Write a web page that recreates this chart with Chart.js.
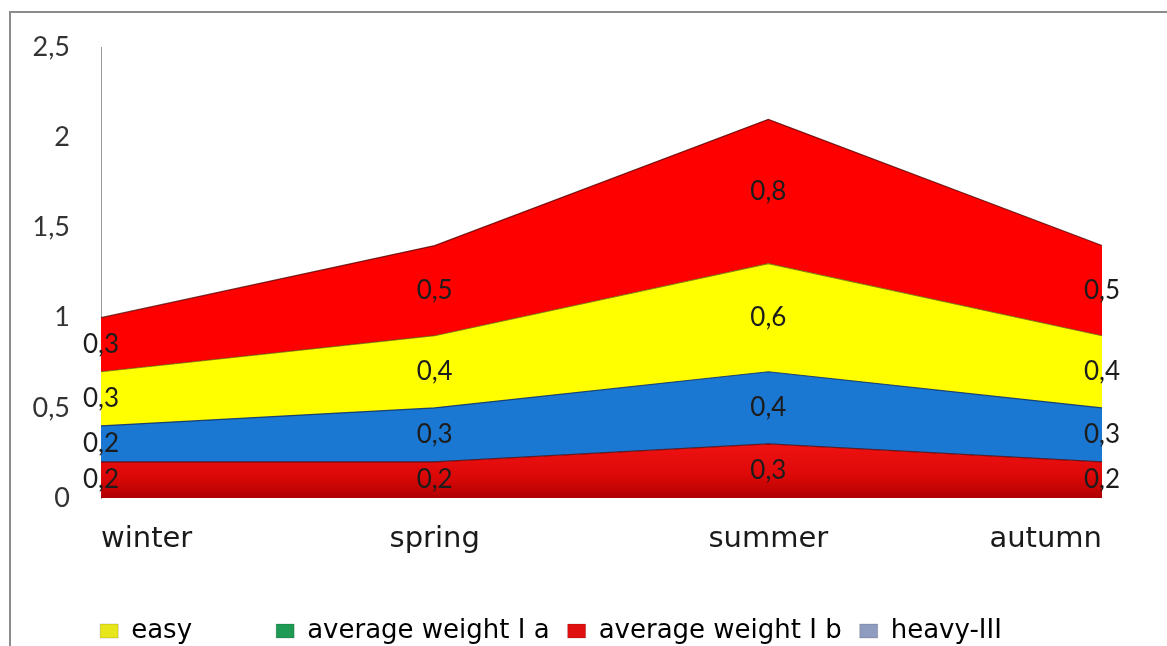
<!DOCTYPE html>
<html>
<head>
<meta charset="utf-8">
<script src="https://cdn.jsdelivr.net/npm/chart.js@4.4.1/dist/chart.umd.min.js"></script>
<style>
  html, body { margin: 0; padding: 0; background: #fff; overflow: hidden; }
  #wrap { position: relative; width: 1167px; height: 646px; }
  #frame { position: absolute; left: 9px; top: 11px; width: 1300px; height: 800px;
           border-top: 2px solid #8c8c8c; border-left: 2px solid #8c8c8c; pointer-events: none; }
  canvas { position: absolute; left: 0; top: 0; }
</style>
</head>
<body>
<div id="wrap">
  <canvas id="c" width="1167" height="646"></canvas>
  <div id="frame"></div>
</div>
<script>
// ---- data ----
const categories = ["winter", "spring", "summer", "autumn"];
const seriesBottomRed = [0.2, 0.2, 0.3, 0.2];
const seriesBlue      = [0.2, 0.3, 0.4, 0.3];
const seriesYellow    = [0.3, 0.4, 0.6, 0.4];
const seriesTopRed    = [0.3, 0.5, 0.8, 0.5];
const yTicks = [0, 0.5, 1, 1.5, 2, 2.5];
const legendLabels = ["easy        ", "average weight I a", "average weight I b", "heavy-III"];
const legendColors = ["#e6e61a", "#1f9a55", "#e01010", "#8e9cbf"];

const fmt = v => String(v).replace('.', ',');

const bandLabels = {
  id: 'bandLabels',
  afterDatasetsDraw(chart) {
    const ctx = chart.ctx;
    const ys = chart.scales.y;
    ctx.save();
    ctx.font = '26px Lato';
    ctx.fillStyle = '#1c1c1c';
    ctx.textAlign = 'center';
    ctx.textBaseline = 'middle';
    const n = chart.data.datasets.length;
    const cum = chart.data.labels.map(() => 0);
    for (let i = 0; i < n; i++) {
      const ds = chart.data.datasets[i];
      const meta = chart.getDatasetMeta(i);
      ds.data.forEach((v, j) => {
        const x = meta.data[j].x;
        const y = ys.getPixelForValue(cum[j] + v / 2);
        ctx.fillText(fmt(v), x, y);
        cum[j] += v;
      });
    }
    ctx.restore();
  }
};

function bottomFill(context) {
  const chart = context.chart;
  const ca = chart.chartArea;
  const ys = chart.scales.y;
  if (!ca || !ys) return '#d40a0a';
  const y0 = ys.getPixelForValue(0.3), y1 = ys.getPixelForValue(0);
  if (!isFinite(y0) || !isFinite(y1)) return '#d40a0a';
  const g = chart.ctx.createLinearGradient(0, y0, 0, y1);
  g.addColorStop(0, '#f01212');
  g.addColorStop(0.6, '#dc0808');
  g.addColorStop(1, '#b00000');
  return g;
}

const edge = 'rgba(80,0,0,0.75)';
new Chart(document.getElementById('c'), {
  type: 'line',
  data: {
    labels: categories,
    datasets: [
      { label: 'bottom', data: seriesBottomRed, backgroundColor: bottomFill, borderColor: edge, borderWidth: 1.2, fill: 'origin', pointRadius: 0, tension: 0 },
      { label: 'blue', data: seriesBlue, backgroundColor: '#1a78d2', borderColor: 'rgba(10,40,90,0.8)', borderWidth: 1.2, fill: '-1', pointRadius: 0, tension: 0 },
      { label: 'yellow', data: seriesYellow, backgroundColor: '#ffff00', borderColor: 'rgba(90,80,0,0.7)', borderWidth: 1.2, fill: '-1', pointRadius: 0, tension: 0 },
      { label: 'top', data: seriesTopRed, backgroundColor: '#ff0000', borderColor: edge, borderWidth: 1.2, fill: '-1', pointRadius: 0, tension: 0 }
    ]
  },
  options: {
    responsive: false,
    animation: false,
    events: [],
    layout: { padding: { left: 0, right: 65, top: 31, bottom: -8 } },
    scales: {
      x: {
        offset: false,
        grid: { display: false, drawTicks: false },
        border: { display: false },
        ticks: { align: 'inner', maxRotation: 0, padding: 24, color: '#1a1a1a', font: { family: 'DejaVu Sans', size: 29 } },
        afterFit(s) { s.height = 102; }
      },
      y: {
        stacked: true,
        min: 0, max: 2.5,
        afterBuildTicks(s) { s.ticks = yTicks.map(v => ({ value: v })); },
        grid: { display: false, drawTicks: false },
        border: { display: true, color: '#9a9a9a', width: 1 },
        ticks: { padding: 31, color: '#333', font: { family: 'Lato', size: 27 }, callback: v => fmt(v) },
        afterFit(s) { s.width = 101; }
      }
    },
    plugins: {
      tooltip: { enabled: false },
      legend: {
        position: 'bottom',
        onClick: () => {},
        labels: {
          boxWidth: 18, boxHeight: 14, padding: 18,
          color: '#1a1a1a',
          font: { family: 'DejaVu Sans', size: 26 },
          generateLabels: () => legendLabels.map((t, i) => ({
            text: t, fillStyle: legendColors[i], strokeStyle: 'rgba(0,0,0,0.15)', lineWidth: 1, hidden: false, datasetIndex: i
          }))
        }
      }
    }
  },
  plugins: [bandLabels]
});
</script>
</body>
</html>
